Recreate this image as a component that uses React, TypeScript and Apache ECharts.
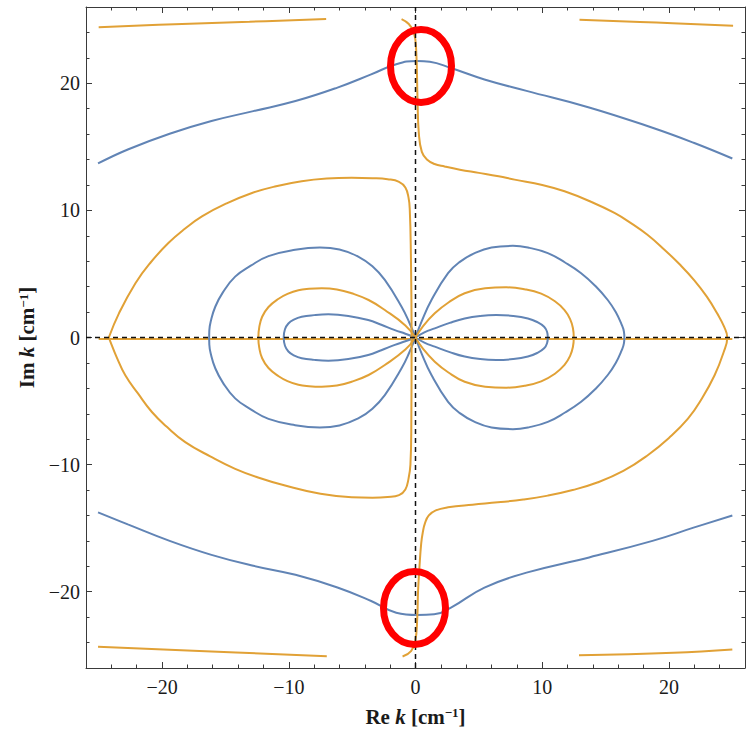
import React, { useEffect, useRef } from "react";
import * as echarts from "echarts";

// ---- data ----
const majorTicks = [-20, -10, 0, 10, 20];
const minorTicks = [-24, -22, -18, -16, -14, -12, -8, -6, -4, -2, 2, 4, 6, 8, 12, 14, 16, 18, 22, 24];

const blueTop: number[][] = [
  [-25.05, 13.69], [-22.7, 14.79], [-19.4, 16.03], [-16.1, 17.03], [-12.8, 17.81], [-9.47, 18.6],
  [-6.16, 19.66], [-3.5, 20.7], [-1.52, 21.5], [0.14, 21.76], [1.13, 21.7], [2.8, 21.2],
  [5.44, 20.3], [8.76, 19.4], [13.7, 18.1], [18.7, 16.5], [22.0, 15.3], [25.0, 14.08],
];
const blueBottom: number[][] = [
  [-25.05, -13.76], [-22.7, -14.7], [-19.4, -16.0], [-16.1, -17.1], [-12.8, -17.96], [-9.47, -18.67],
  [-6.16, -19.67], [-3.5, -20.73], [-1.52, -21.65], [0.14, -21.83], [1.47, -21.78], [2.8, -21.25],
  [5.44, -19.67], [8.76, -18.5], [13.7, -17.3], [18.7, -16.0], [22.0, -14.94], [25.0, -14.0],
];
const blueOuterRightUpper: number[][] = [
  [0, 0], [0.5, 1.3], [1.26, 2.95], [2.57, 5.06], [3.5, 5.95], [4.67, 6.64], [6.0, 7.08], [7.69, 7.21],
  [9.0, 7.05], [10.44, 6.64], [11.8, 5.9], [13.07, 5.06], [14.2, 4.05], [15.17, 2.95], [15.8, 2.0],
  [16.25, 1.05], [16.45, 0.45], [16.48, 0],
];
const blueOuterLeftUpper: number[][] = [
  [0, 0], [-0.5, 1.2], [-1.1, 2.42], [-2.42, 4.53], [-3.4, 5.6], [-4.52, 6.37], [-6.0, 6.92], [-7.54, 7.08],
  [-9.5, 6.9], [-11.6, 6.4], [-13.0, 5.65], [-14.23, 4.79], [-15.2, 3.55], [-15.8, 2.42], [-16.15, 1.3],
  [-16.27, 0.55], [-16.28, 0],
];
const blueInnerRightUpper: number[][] = [
  [0, 0], [0.7, 0.4], [1.52, 0.72], [2.7, 1.15], [3.88, 1.5], [5.1, 1.7], [6.38, 1.77], [7.7, 1.7],
  [8.87, 1.5], [9.6, 1.22], [10.15, 0.85], [10.38, 0.45], [10.44, 0],
];
const blueInnerLeftUpper: number[][] = [
  [0, 0], [-0.8, 0.3], [-1.63, 0.58], [-2.7, 1.0], [-3.73, 1.37], [-5.3, 1.7], [-6.88, 1.82], [-8.0, 1.76],
  [-8.98, 1.63], [-9.6, 1.4], [-10.03, 1.1], [-10.3, 0.65], [-10.4, 0],
];
const orangeMidRightUpper: number[][] = [
  [0, 0], [0.6, 0.9], [1.52, 1.9], [2.6, 2.75], [3.88, 3.48], [5.5, 3.87], [7.16, 3.95], [8.6, 3.8],
  [9.92, 3.45], [11.0, 2.85], [11.76, 2.16], [12.2, 1.45], [12.42, 0.75], [12.49, 0],
];
const orangeMidLeftUpper: number[][] = [
  [0, 0], [-0.8, 0.95], [-2.42, 2.16], [-3.7, 2.95], [-5.04, 3.48], [-6.2, 3.78], [-7.4, 3.87], [-8.4, 3.83],
  [-9.24, 3.72], [-10.1, 3.43], [-10.8, 3.05], [-11.6, 2.4], [-12.1, 1.63], [-12.33, 0.8], [-12.4, 0],
];
const orangeRightS: number[][] = [
  [-1.1, 25.05], [-0.53, 24.66], [-0.13, 24.0], [0.05, 22.7], [0.16, 18.7], [0.26, 16.1], [0.5, 14.6],
  [0.9, 14.0], [1.5, 13.65], [2.3, 13.45], [3.5, 13.2], [5.0, 12.95], [6.56, 12.68], [7.82, 12.42],
  [10.0, 12.0], [11.76, 11.5], [13.8, 10.7], [15.7, 9.8], [17.0, 9.0], [18.3, 8.08], [19.6, 6.95],
  [20.9, 5.7], [22.0, 4.5], [23.0, 3.2], [23.8, 1.9], [24.35, 0.85], [24.6, 0], [24.3, -1.2], [23.6, -2.97],
  [22.6, -4.8], [21.5, -6.39], [20.0, -7.9], [18.3, -9.28], [16.4, -10.5], [14.4, -11.39], [12.4, -12.0],
  [10.44, -12.44], [8.5, -12.75], [6.5, -12.97], [4.5, -13.15], [2.57, -13.36], [1.6, -13.6],
  [1.05, -14.0], [0.75, -14.6], [0.58, -15.3], [0.45, -16.2], [0.31, -18.1], [0.2, -20.0], [0.14, -22.04],
  [-0.02, -23.9], [-0.35, -24.67], [-1.02, -25.1],
];
const orangeLeftD: number[][] = [
  [-24.2, 0], [-23.4, 1.9], [-22.1, 4.27], [-20.9, 5.9], [-19.5, 7.43], [-18.2, 8.55], [-16.85, 9.53],
  [-14.9, 10.55], [-12.9, 11.37], [-11.0, 11.9], [-8.98, 12.29], [-7.0, 12.5], [-5.04, 12.56],
  [-3.4, 12.53], [-2.2, 12.45], [-1.3, 12.25], [-0.8, 11.8], [-0.55, 11.0], [-0.45, 10.0],
  [-0.37, 6.9], [-0.31, 0], [-0.33, -6.9], [-0.4, -10.0], [-0.55, -11.1], [-0.8, -11.95], [-1.3, -12.4],
  [-2.2, -12.55], [-3.4, -12.6], [-5.04, -12.57], [-7.5, -12.3], [-10.29, -11.65], [-12.3, -11.05],
  [-14.23, -10.33], [-16.2, -9.35], [-18.17, -8.23], [-19.6, -7.05], [-20.8, -5.86], [-21.9, -4.4],
  [-22.9, -2.97], [-23.6, -1.5], [-24.07, -0.34], [-24.2, 0],
];
const orangeAxis: number[][] = [[-25, -0.12], [25, -0.12]];
const orangeTopLeft: number[][] = [[-25.0, 24.4], [-19.0, 24.65], [-13.1, 24.84], [-7.05, 25.05]];
const orangeTopRight: number[][] = [[12.94, 25.0], [19.0, 24.78], [25.06, 24.52]];
const orangeBottomLeft: number[][] = [[-25.05, -24.33], [-16.1, -24.7], [-7.0, -25.07]];
const orangeBottomRight: number[][] = [[12.9, -25.0], [20.35, -24.8], [25.0, -24.54]];

const BLUE = "#6184b5";
const ORANGE = "#e1a136";

const lobe = (upper: number[][]) => {
  const lower = upper.slice(0, -1).reverse().map(([x, y]) => [x, -y]);
  return [...upper, ...lower];
};

const fmt = (v: number) => String(v).replace("-", "\u2212");

export default function App() {
  const ref = useRef<HTMLDivElement>(null);
  useEffect(() => {
    if (!ref.current) return;
    const chart = echarts.init(ref.current, undefined, { renderer: "svg" });
    const serif = "'Liberation Serif', 'Times New Roman', serif";
    const lineColor = "#3a3a3a";
    const rich = {
      b: { fontSize: 21, fontWeight: "bold", fontFamily: serif, color: "#1a1a1a" },
      i: { fontSize: 21, fontWeight: "bold", fontStyle: "italic", fontFamily: serif, color: "#1a1a1a" },
      s: { fontSize: 13, fontWeight: "bold", fontFamily: serif, color: "#1a1a1a", verticalAlign: "top" },
    };
    const mkX = (pos: "bottom" | "top", ticks: number[], len: number, labels: boolean, line: boolean, name?: string) => ({
      type: "value", min: -26, max: 26, position: pos,
      axisLine: { show: line, onZero: false, lineStyle: { color: lineColor, width: 1 } },
      axisTick: { show: true, inside: true, length: len, customValues: ticks, lineStyle: { color: lineColor, width: 1 } },
      axisLabel: labels
        ? { show: true, customValues: ticks, formatter: fmt, fontSize: 20, fontFamily: serif, color: "#1a1a1a", margin: 9 }
        : { show: false },
      splitLine: { show: false },
      name: name || "",
      nameLocation: "middle", nameGap: 38,
      nameTextStyle: { rich },
    });
    const mkY = (pos: "left" | "right", ticks: number[], len: number, labels: boolean, line: boolean, name?: string) => ({
      type: "value", min: -26, max: 26, position: pos,
      axisLine: { show: line, onZero: false, lineStyle: { color: lineColor, width: 1 } },
      axisTick: { show: true, inside: true, length: len, customValues: ticks, lineStyle: { color: lineColor, width: 1 } },
      axisLabel: labels
        ? { show: true, customValues: ticks, formatter: fmt, fontSize: 20, fontFamily: serif, color: "#1a1a1a", margin: 6 }
        : { show: false },
      splitLine: { show: false },
      name: name || "",
      nameLocation: "middle", nameGap: 48, nameRotate: 90,
      nameTextStyle: { rich },
    });
    const curve = (data: number[][], color: string) => ({
      type: "line", data, xAxisIndex: 0, yAxisIndex: 0, showSymbol: false, symbol: "none",
      smooth: 0.45, lineStyle: { color, width: 2 }, silent: true, z: 2,
    });
    const dashed = (data: number[][]) => ({
      type: "line", data, xAxisIndex: 0, yAxisIndex: 0, showSymbol: false, symbol: "none",
      lineStyle: { color: "#111", width: 1.5, type: [5, 4] }, silent: true, z: 5,
    });
    chart.setOption({
      animation: false,
      backgroundColor: "#ffffff",
      grid: { left: 86, right: 1, top: 7, bottom: 71, containLabel: false },
      xAxis: [
        mkX("bottom", majorTicks, 6, true, true, "{b|Re }{i|k}{b| [cm}{s|\u22121}{b|]}"),
        mkX("bottom", minorTicks, 3.5, false, false),
        mkX("top", majorTicks, 6, false, true),
        mkX("top", minorTicks, 3.5, false, false),
      ],
      yAxis: [
        mkY("left", majorTicks, 6, true, true, "{b|Im }{i|k}{b| [cm}{s|\u22121}{b|]}"),
        mkY("left", minorTicks, 3.5, false, false),
        mkY("right", majorTicks, 6, false, true),
        mkY("right", minorTicks, 3.5, false, false),
      ],
      series: [
        curve(orangeAxis, ORANGE),
        curve(blueTop, BLUE),
        curve(blueBottom, BLUE),
        curve(lobe(blueOuterRightUpper), BLUE),
        curve(lobe(blueOuterLeftUpper), BLUE),
        curve(lobe(blueInnerRightUpper), BLUE),
        curve(lobe(blueInnerLeftUpper), BLUE),
        curve(lobe(orangeMidRightUpper), ORANGE),
        curve(lobe(orangeMidLeftUpper), ORANGE),
        curve(orangeRightS, ORANGE),
        curve(orangeLeftD, ORANGE),
        curve(orangeTopLeft, ORANGE),
        curve(orangeTopRight, ORANGE),
        curve(orangeBottomLeft, ORANGE),
        curve(orangeBottomRight, ORANGE),
        dashed([[0, -26], [0, 26]]),
        dashed([[-26, 0], [26, 0]]),
      ],
      graphic: [
        { type: "ellipse", shape: { cx: 421, cy: 66, rx: 30.5, ry: 36.5 }, style: { fill: "none", stroke: "#ff0000", lineWidth: 7 }, z: 100 },
        { type: "ellipse", shape: { cx: 414.5, cy: 608, rx: 31, ry: 36.5 }, style: { fill: "none", stroke: "#ff0000", lineWidth: 7 }, z: 100 },
      ],
    });
    return () => chart.dispose();
  }, []);
  return (
    <div
      ref={ref}
      style={{ position: "fixed", left: 0, top: 0, width: 746, height: 739, background: "#fff" }}
    />
  );
}
